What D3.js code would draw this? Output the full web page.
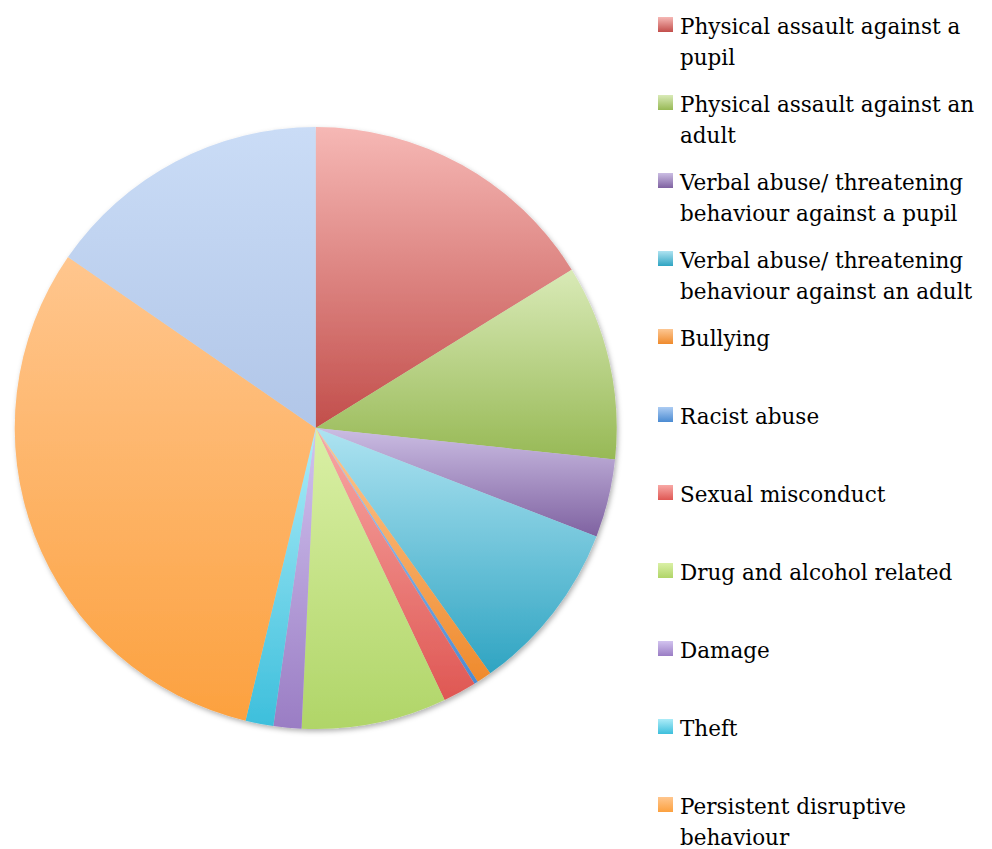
<!DOCTYPE html>
<html>
<head>
<meta charset="utf-8">
<script src="https://cdn.jsdelivr.net/npm/d3@7"></script>
<style>
  html, body { margin: 0; padding: 0; background: #fff; }
  svg { display: block; }
  .legend text { font-family: "DejaVu Serif", "Liberation Serif", serif; fill: #000; }
</style>
</head>
<body>
<svg id="chart" width="992" height="849"></svg>
<script>
// incident categories, in clockwise order from 12 o'clock
const categories = [
  "Physical assault against a pupil",
  "Physical assault against an adult",
  "Verbal abuse/ threatening behaviour against a pupil",
  "Verbal abuse/ threatening behaviour against an adult",
  "Bullying",
  "Racist abuse",
  "Sexual misconduct",
  "Drug and alcohol related",
  "Damage",
  "Theft",
  "Persistent disruptive behaviour",
  "Other"
];

// share of incidents (%)
const values = [16.2, 10.5, 4.2, 9.3, 0.8, 0.2, 1.8, 7.8, 1.5, 1.5, 30.9, 15.4];

// the 12th entry runs off the bottom of the legend in the original
const legendCount = 11;

// gradient stops per slice: light (top) -> dark (bottom)
const lightColors = ["#f6b8b5", "#d9eab7", "#cbbde3", "#aee3f1", "#fdc793", "#acccf3", "#f8a9a6", "#daf0a6", "#d2c3ef", "#acecf8", "#ffc68e", "#cadcf6"];
const darkColors  = ["#c24e4b", "#97b955", "#7f62a1", "#2fa4c2", "#ef8a2c", "#4b8bd2", "#df5753", "#b0d568", "#9a7dc4", "#3dbfdc", "#fca13f", "#b1c6e8"];

const svg = d3.select("#chart");
const cx = 315.7, cy = 428, radius = 301;

const defs = svg.append("defs");

// soft drop shadow under the pie
const shadow = defs.append("filter")
  .attr("id", "shadow")
  .attr("x", "-10%").attr("y", "-10%")
  .attr("width", "120%").attr("height", "120%");
shadow.append("feDropShadow")
  .attr("dx", 1.5).attr("dy", 2.5)
  .attr("stdDeviation", 2.5)
  .attr("flood-color", "#000")
  .attr("flood-opacity", 0.3);

categories.forEach((c, i) => {
  const g = defs.append("linearGradient")
    .attr("id", "grad" + i)
    .attr("x1", 0).attr("y1", 0)
    .attr("x2", 0).attr("y2", 1);
  g.append("stop").attr("offset", "0%").attr("stop-color", lightColors[i]);
  g.append("stop").attr("offset", "100%").attr("stop-color", darkColors[i]);
});

const pie = d3.pie().sort(null).value(d => d);
const arc = d3.arc().innerRadius(0).outerRadius(radius);

const pieG = svg.append("g")
  .attr("transform", `translate(${cx},${cy})`)
  .attr("filter", "url(#shadow)");

pieG.selectAll("path")
  .data(pie(values))
  .join("path")
  .attr("d", arc)
  .attr("fill", (d, i) => `url(#grad${i})`);

// legend
const legend = svg.append("g").attr("class", "legend");
const legendX = 658, textX = 680, firstY = 26, entryStep = 78, lineStep = 31;
const fontSize = 21.5, maxWidth = 308;

const entries = legend.selectAll("g.entry")
  .data(categories.slice(0, legendCount))
  .join("g")
  .attr("class", "entry")
  .attr("transform", (d, i) => `translate(0,${firstY + i * entryStep})`);

entries.append("rect")
  .attr("x", legendX)
  .attr("y", -9)
  .attr("width", 15)
  .attr("height", 15)
  .attr("fill", (d, i) => `url(#grad${i})`);

entries.each(function(label) {
  const g = d3.select(this);
  const text = g.append("text")
    .attr("x", textX)
    .style("font-size", fontSize + "px");
  // simple word wrap
  const words = label.split(" ");
  let line = [], lineNo = 0;
  let tspan = text.append("tspan").attr("x", textX).attr("y", 0).attr("dy", "0.35em");
  words.forEach(w => {
    line.push(w);
    tspan.text(line.join(" "));
    if (tspan.node().getComputedTextLength() > maxWidth && line.length > 1) {
      line.pop();
      tspan.text(line.join(" "));
      line = [w];
      lineNo++;
      tspan = text.append("tspan")
        .attr("x", textX)
        .attr("y", lineNo * lineStep)
        .attr("dy", "0.35em")
        .text(w);
    }
  });
});
</script>
</body>
</html>
